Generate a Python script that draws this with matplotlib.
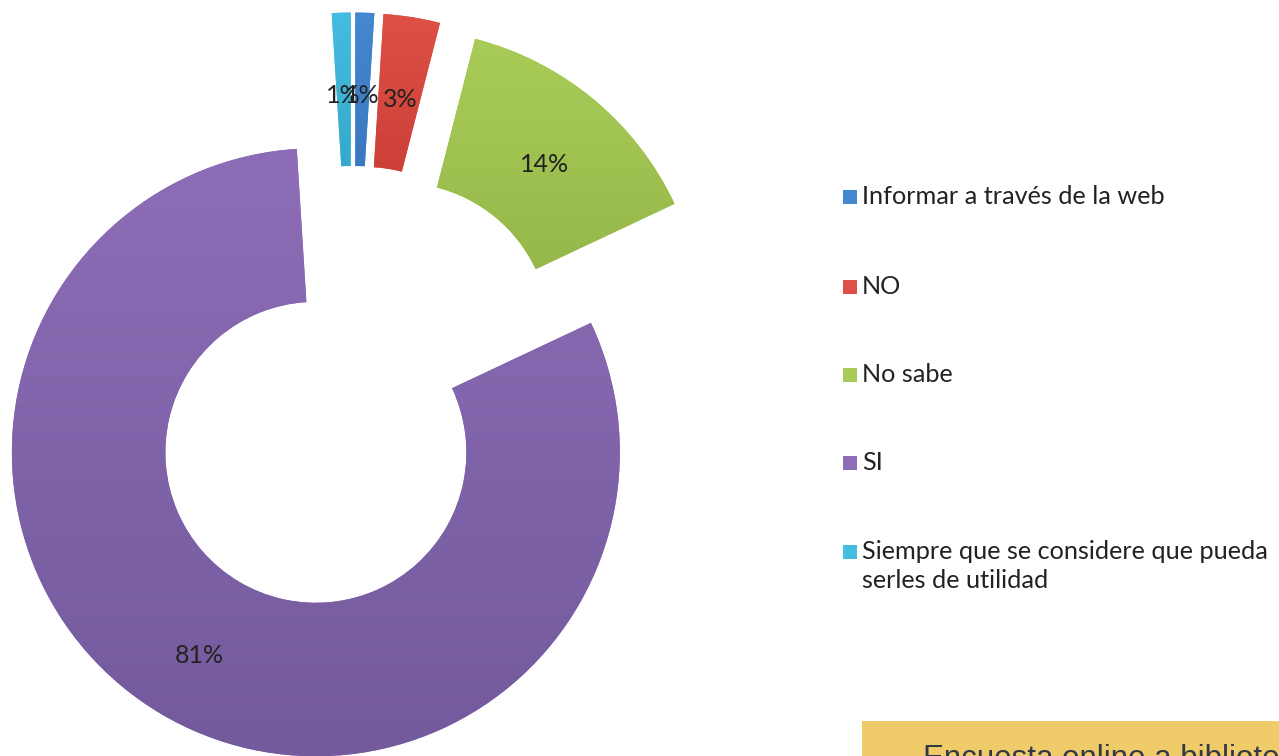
import numpy as np
import matplotlib
matplotlib.use("Agg")
import matplotlib.pyplot as plt
from matplotlib.colors import LinearSegmentedColormap
from matplotlib.patches import Rectangle

# Survey answers (percent of responses)
categories = [
    "Informar a través de la web",
    "NO",
    "No sabe",
    "SI",
    "Siempre que se considere que pueda\nserles de utilidad",
]
values = [1, 3, 14, 81, 1]

# (top, bottom) shades for each slice gradient
shades = [
    ("#4488d0", "#3a78c0"),
    ("#de5045", "#cc4038"),
    ("#a9cc58", "#96b84a"),
    ("#8d6db7", "#735a9c"),
    ("#45bde0", "#35a9cc"),
]
footer_text = "Encuesta online a bibliotecas"

W, H = 1279, 756
fig = plt.figure(figsize=(W / 100, H / 100), dpi=100)
fig.patch.set_facecolor("white")
ax = fig.add_axes([0, 0, 1, 1])

R_px = 304.0
cx_px, cy_px = 353.0, 389.5

wedges, texts, autotexts = ax.pie(
    values,
    startangle=90,
    counterclock=False,
    explode=[0.24] * len(values),
    radius=1.0,
    pctdistance=0.75,
    autopct="%.0f%%",
    colors=[s[0] for s in shades],
    wedgeprops=dict(width=0.505, linewidth=0),
    textprops=dict(family="Lato", fontsize=18, color="#222222"),
)

# vertical gradient fill clipped to each slice
for w, (top, bot) in zip(wedges, shades):
    ext = w.get_path().get_extents()
    cmap = LinearSegmentedColormap.from_list("g", [bot, top])
    grad = np.linspace(0, 1, 256).reshape(-1, 1)
    im = ax.imshow(grad, cmap=cmap, origin="lower", aspect="auto",
                   extent=[ext.x0, ext.x1, ext.y0, ext.y1], zorder=1.5,
                   interpolation="bilinear")
    im.set_clip_path(w)

# percentage labels sit a touch below the ring's mid-radius
for t in autotexts:
    x, y = t.get_position()
    t.set_position((x, y - 7 / R_px))
    t.set_zorder(5)

ax.set_xlim(-cx_px / R_px, (W - cx_px) / R_px)
ax.set_ylim(-(H - cy_px) / R_px, cy_px / R_px)
ax.set_aspect("equal")
ax.axis("off")

# legend entries drawn as colour squares with labels
leg_x_px = 843
leg_text_x_px = 862
leg_y_px = [197, 287, 375, 463, 552]
sq = 14
for cat, (top, bot), yp in zip(categories, shades, leg_y_px):
    fig.patches.append(Rectangle(((leg_x_px) / W, 1 - (yp + sq / 2) / H),
                                 sq / W, sq / H, transform=fig.transFigure,
                                 facecolor=top, edgecolor="none"))
    fig.text(leg_text_x_px / W, 1 - (yp - 12) / H, cat, family="Lato",
             fontsize=18.2, color="#222222", va="top", ha="left",
             linespacing=1.33)

# footer banner
fig.patches.append(Rectangle((862 / W, 0), (W - 862) / W, (H - 721) / H,
                             transform=fig.transFigure, facecolor="#f0cb6a",
                             edgecolor="none"))
fig.text(923 / W, 1 - 767 / H, footer_text, family="Liberation Sans",
         fontsize=22.5, color="#323844", va="baseline", ha="left")

fig.savefig("out.png", dpi=100, facecolor="white")
